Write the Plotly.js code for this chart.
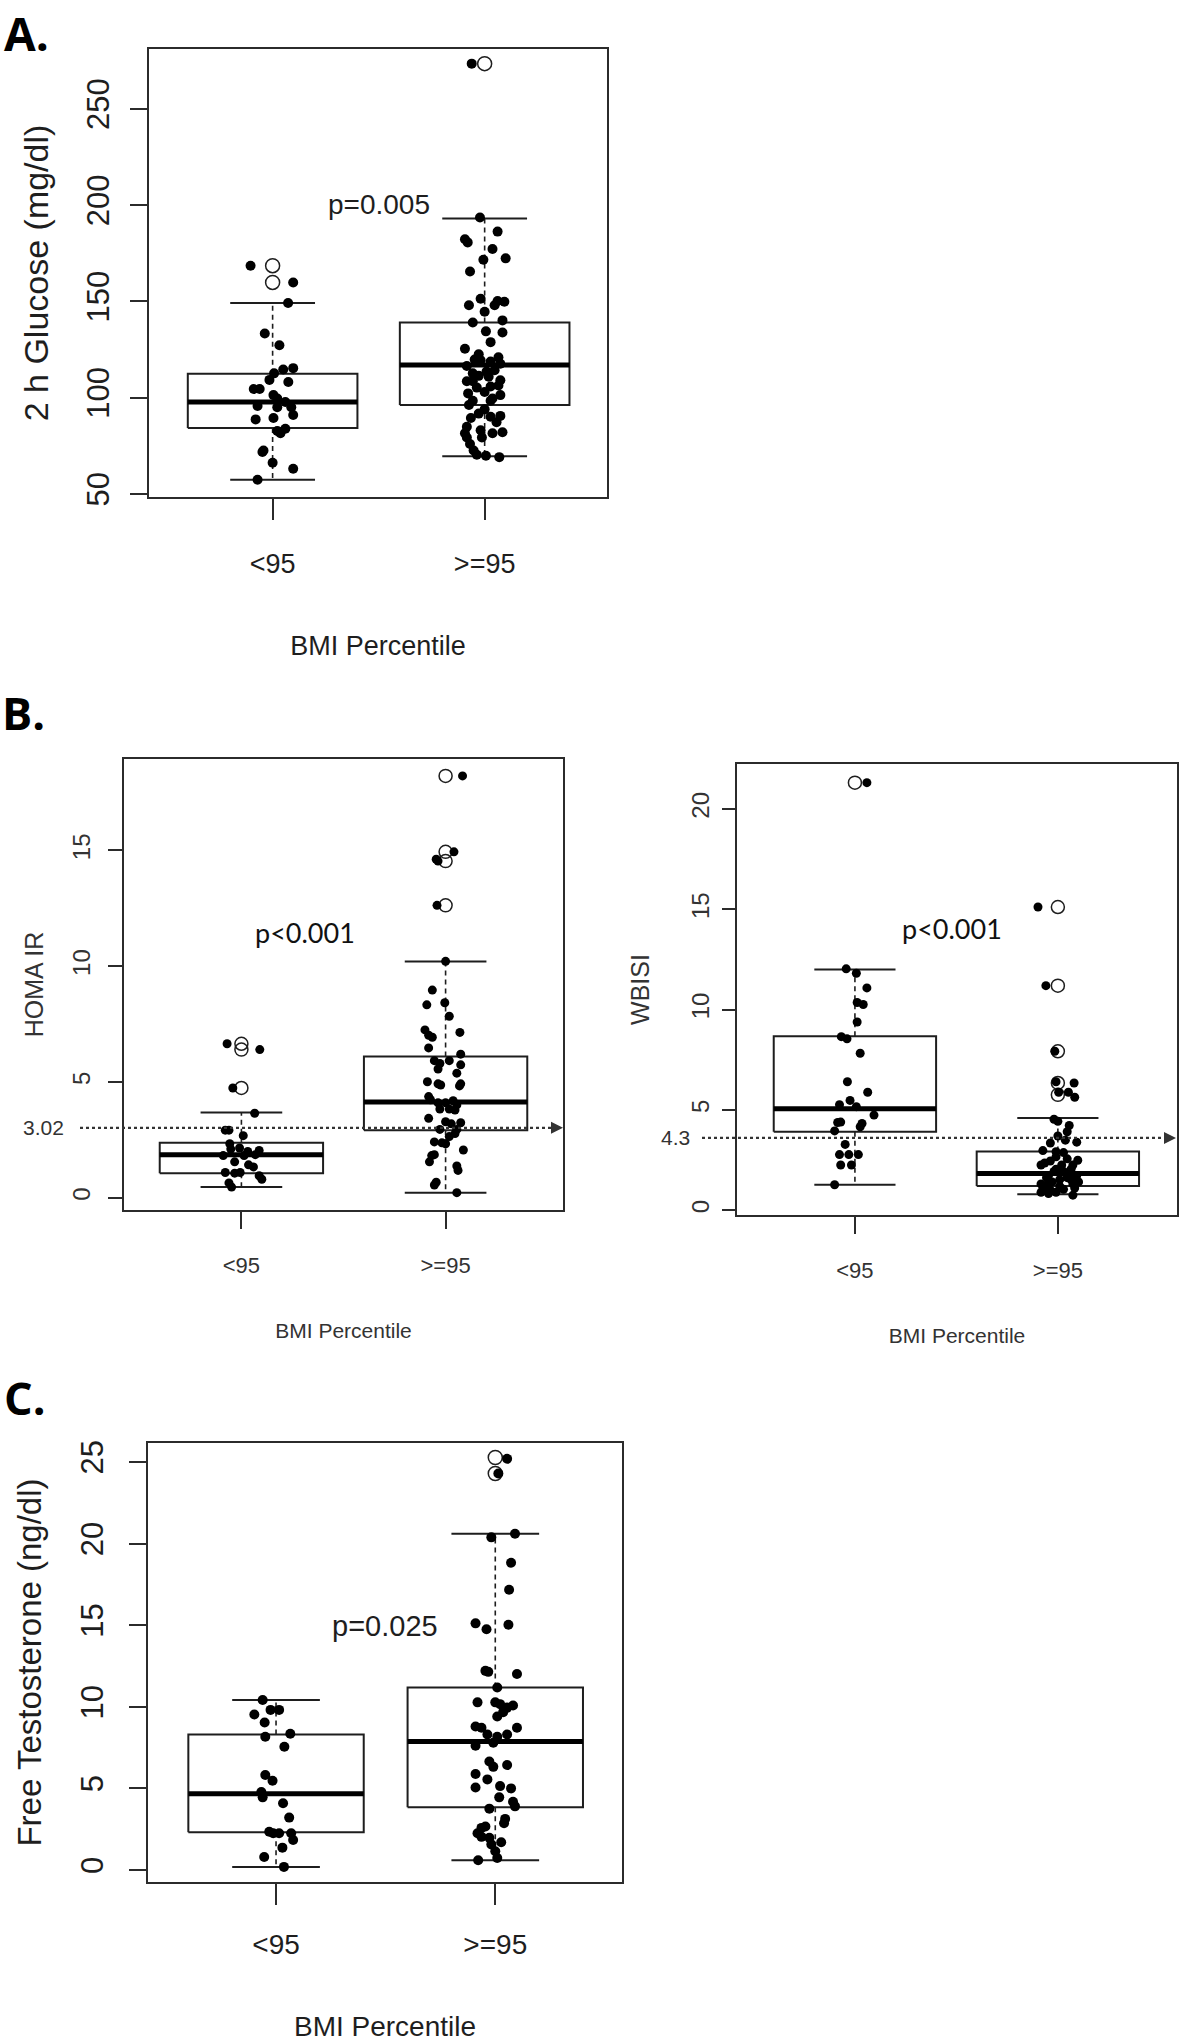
<!DOCTYPE html>
<html>
<head>
<meta charset="utf-8">
<script src="https://cdn.plot.ly/plotly-3.0.1.min.js"></script>
<style>
  html, body { margin: 0; padding: 0; background: #fff; }
  #fig { width: 1180px; height: 2042px; }
</style>
</head>
<body>
<div id="fig"></div>
<script>
// group labels (BMI percentile)
const groups = ['<95', '>=95'];

// ---- A. 2 h glucose (mg/dl) ----
const glucTicks = [50, 100, 150, 200, 250];
const glucLowVals = [168.5, 159.8, 149.1, 133.3, 127.2, 112.6, 114.6, 115.3, 104.5, 104.5, 109.2, 108.1, 95.7, 99.5,
  97.7, 95.0, 101.3, 88.7, 89.4, 91.0, 82.7, 83.8, 72.5, 71.8, 66.2, 63.1, 57.4, 95.0, 81.5];
const glucLowJit = [-0.104, 0.097, 0.073, -0.037, 0.032, 0.007, 0.050, 0.097, -0.089, -0.061, -0.015, 0.074, -0.071, 0.022,
  0.060, 0.088, 0.004, -0.080, 0.004, 0.097, 0.022, 0.060, -0.043, -0.048, 0.000, 0.097, -0.071, 0.022, 0.037];
const glucHighVals = [273.4, 193.5, 186.2, 182.2, 180.6, 177.2, 171.6, 172.3, 165.5, 151.3, 150.2, 149.8, 148.0, 148.0,
  144.6, 139.0, 140.1, 134.4, 133.8, 128.8, 125.4, 120.9, 119.8, 119.4, 118.7, 116.4, 117.6, 112.6, 113.5, 111.3,
  108.5, 109.0, 105.8, 105.2, 102.2, 101.3, 102.9, 98.4, 99.5, 96.2, 93.9, 90.5, 91.7, 90.1, 84.9, 83.1, 82.0, 81.5,
  79.3, 75.9, 72.5, 70.3, 69.8, 69.1, 108.5, 114.2, 122.5, 110.8, 89.4, 87.2, 79.3, 81.5, 98.4, 106.3];
const glucHighJit = [-0.061, -0.022, 0.061, -0.093, -0.080, 0.037, -0.006, 0.099, -0.069, -0.019, 0.061, 0.093, -0.074, 0.047,
  0.000, -0.056, 0.084, 0.006, 0.084, 0.028, -0.093, 0.065, -0.047, -0.019, 0.028, -0.084, 0.074, -0.056, 0.009, -0.028,
  -0.084, 0.074, 0.028, -0.037, -0.078, 0.074, 0.000, -0.056, 0.037, -0.074, 0.000, 0.074, -0.028, 0.028, -0.084, -0.019,
  0.084, 0.037, -0.084, -0.069, -0.052, -0.037, 0.006, 0.069, -0.056, 0.047, -0.028, 0.019, -0.065, 0.056, -0.013, -0.093,
  0.028, 0.065];
const glucQ1 = [84.2, 96.2];
const glucMed = [97.7, 116.9];
const glucQ3 = [112.4, 139.0];
const glucLo = [57.4, 69.6];
const glucHi = [149.1, 193.0];
const glucOutLow = [168.5, 159.8];
const glucOutHigh = [273.4];

// ---- B. HOMA IR ----
const homaTicks = [0, 5, 10, 15];
const homaCut = 3.02;
const homaLowVals = [6.65, 6.4, 4.74, 3.65, 2.92, 2.92, 2.68, 2.33, 2.10, 2.15, 2.00, 2.04, 1.82, 1.82, 1.86, 1.55,
  1.42, 1.33, 1.09, 1.09, 1.06, 0.95, 0.80, 0.64, 0.46];
const homaLowJit = [-0.070, 0.090, -0.042, 0.065, -0.079, -0.061, 0.009, -0.057, -0.052, -0.009, 0.031, 0.087, -0.089,
  0.013, 0.068, -0.033, 0.035, 0.059, -0.079, -0.006, -0.033, 0.087, 0.100, -0.061, -0.048];
const homaHighVals = [18.22, 14.94, 14.62, 14.54, 12.63, 10.21, 8.97, 8.33, 8.42, 7.84, 7.25, 7.02, 7.14, 6.93, 6.47,
  6.20, 5.92, 5.80, 5.92, 5.74, 5.38, 5.56, 5.01, 4.92, 4.87, 4.92, 4.83, 4.37, 4.23, 4.10, 4.10, 4.19, 4.01, 3.83,
  3.83, 3.79, 3.43, 3.28, 3.19, 3.24, 2.95, 2.95, 2.77, 2.64, 2.41, 2.37, 2.33, 2.06, 1.82, 1.86, 1.55, 1.37, 1.18,
  0.67, 0.55, 0.22];
const homaHighJit = [0.083, 0.041, -0.046, -0.037, -0.042, 0.000, -0.065, -0.092, -0.004, 0.018, -0.101, -0.083, 0.070,
  -0.065, -0.083, 0.074, -0.055, -0.028, 0.018, 0.074, 0.055, -0.037, -0.089, -0.037, -0.024, 0.074, 0.068, -0.083,
  -0.074, -0.037, 0.000, 0.037, 0.055, -0.028, 0.018, 0.046, -0.083, 0.000, 0.028, 0.074, -0.028, 0.055, 0.046, 0.018,
  -0.055, -0.018, 0.000, 0.087, -0.068, -0.055, -0.079, 0.055, 0.061, -0.046, -0.055, 0.055];
const homaQ1 = [1.06, 2.92];
const homaMed = [1.86, 4.14];
const homaQ3 = [2.37, 6.10];
const homaLo = [0.46, 0.22];
const homaHi = [3.68, 10.2];
const homaOutLow = [6.65, 6.4, 4.74];
const homaOutHigh = [18.22, 14.94, 14.54, 12.63];

// ---- B. WBISI ----
const wbisiTicks = [0, 5, 10, 15, 20];
const wbisiCut = 3.6;  // where the dotted line sits on the axis
const wbisiCutLabel = '4.3';
const wbisiLowVals = [21.31, 12.03, 11.81, 11.08, 10.35, 10.25, 9.38, 8.65, 8.54, 7.82, 6.40, 5.88, 5.26, 5.47, 5.16,
  4.74, 4.37, 4.39, 4.32, 4.16, 3.95, 3.28, 2.77, 2.77, 2.77, 2.25, 2.25, 1.27];
const wbisiLowJit = [0.059, -0.043, 0.007, 0.059, 0.011, 0.041, 0.011, -0.067, -0.039, 0.026, -0.037, 0.063, -0.076,
  -0.024, 0.007, 0.094, -0.085, -0.070, 0.035, 0.026, -0.100, -0.048, -0.076, -0.030, 0.017, -0.070, -0.017, -0.100];
const wbisiHighVals = [15.11, 11.19, 7.92, 6.40, 6.34, 5.88, 5.88, 5.63, 4.53, 4.43, 4.22, 3.91, 3.70, 3.35, 3.39, 2.97,
  2.91, 2.87, 2.45, 2.56, 2.49, 2.25, 2.35, 2.25, 2.04, 1.93, 2.04, 1.73, 1.73, 1.62, 1.52, 1.41, 1.31, 1.25, 1.31, 1.41,
  1.10, 1.00, 1.04, 1.10, 0.89, 0.89, 0.75, 1.93, 2.25, 1.62, 1.52, 1.20, 2.66, 3.49, 0.83];
const wbisiHighJit = [-0.098, -0.059, -0.015, -0.009, 0.080, 0.004, 0.052, 0.083, -0.019, 0.000, 0.056, 0.046, 0.000,
  -0.037, 0.093, -0.074, -0.009, 0.028, -0.037, 0.046, 0.098, -0.083, -0.065, 0.074, -0.009, 0.028, 0.065, -0.046, 0.093,
  0.046, 0.009, -0.028, -0.083, -0.056, 0.074, 0.102, -0.074, -0.037, 0.028, 0.083, -0.083, -0.009, 0.074, -0.019, 0.019,
  -0.056, 0.065, 0.009, -0.009, 0.037, -0.046];
const wbisiQ1 = [3.91, 1.20];
const wbisiMed = [5.05, 1.83];
const wbisiQ3 = [8.67, 2.93];
const wbisiLo = [1.27, 0.79];
const wbisiHi = [12.0, 4.59];
const wbisiOutLow = [21.31];
const wbisiOutHigh = [15.11, 11.19, 7.92, 6.34, 5.75];

// ---- C. free testosterone (ng/dl) ----
const testoTicks = [0, 5, 10, 15, 20, 25];
const testoLowVals = [10.41, 9.53, 9.81, 9.81, 9.04, 8.16, 8.35, 7.55, 5.82, 5.47, 4.78, 4.45, 4.09, 3.21, 2.34, 2.25,
  2.25, 2.25, 1.84, 1.37, 0.80, 0.19];
const testoLowJit = [-0.061, -0.099, -0.025, 0.014, -0.052, -0.049, 0.065, 0.038, -0.049, -0.016, -0.067, -0.061, 0.032,
  0.060, -0.031, -0.013, 0.014, 0.069, 0.078, 0.029, -0.054, 0.036];
const testoHighVals = [25.19, 24.29, 20.38, 20.60, 18.82, 17.17, 15.11, 14.75, 15.03, 12.20, 12.14, 12.01, 11.18, 10.27,
  10.27, 10.16, 9.95, 10.08, 9.67, 9.40, 8.79, 8.71, 8.71, 8.30, 8.16, 8.30, 7.61, 7.80, 6.65, 5.88, 6.32, 6.43, 5.55,
  5.05, 5.14, 5.00, 4.45, 4.18, 3.90, 3.76, 3.13, 2.86, 2.66, 2.58, 2.25, 2.03, 1.98, 1.57, 1.70, 1.15, 0.74, 0.60];
const testoHighJit = [0.054, 0.014, -0.018, 0.090, 0.072, 0.063, -0.090, -0.040, 0.060, -0.045, -0.032, 0.099, 0.009,
  -0.081, 0.000, 0.022, 0.054, 0.081, 0.036, 0.009, -0.090, -0.063, 0.099, -0.036, 0.009, 0.054, -0.090, -0.009, -0.027,
  -0.090, -0.009, 0.054, -0.036, -0.090, 0.022, 0.072, 0.018, 0.081, 0.090, -0.027, 0.045, 0.040, -0.045, -0.063, -0.081,
  -0.063, -0.027, -0.018, 0.027, 0.000, 0.009, -0.078];
const testoQ1 = [2.31, 3.85];
const testoMed = [4.67, 7.88];
const testoQ3 = [8.30, 11.18];
const testoLo = [0.19, 0.60];
const testoHi = [10.41, 20.6];
const testoOutLow = [];
const testoOutHigh = [25.27, 24.29];

const INK = '#1e1e1e';
const BOX_HALF = 0.4;     // R boxwex 0.8
const STAPLE_HALF = 0.2;  // staplewex 0.5

// R-style box: rectangle, thick median, dashed whiskers with solid staples
function boxTraces(q1, med, q3, lo, hi, xa, ya) {
  const rx = [], ry = [], wx = [], wy = [], sx = [], sy = [], mx = [], my = [];
  for (let i = 0; i < q1.length; i++) {
    const c = i + 1;
    rx.push(c - BOX_HALF, c + BOX_HALF, c + BOX_HALF, c - BOX_HALF, c - BOX_HALF, null);
    ry.push(q1[i], q1[i], q3[i], q3[i], q1[i], null);
    wx.push(c, c, null, c, c, null);
    wy.push(q3[i], hi[i], null, q1[i], lo[i], null);
    sx.push(c - STAPLE_HALF, c + STAPLE_HALF, null, c - STAPLE_HALF, c + STAPLE_HALF, null);
    sy.push(hi[i], hi[i], null, lo[i], lo[i], null);
    mx.push(c - BOX_HALF, c + BOX_HALF, null);
    my.push(med[i], med[i], null);
  }
  const base = {type: 'scatter', mode: 'lines', xaxis: xa, yaxis: ya, hoverinfo: 'skip', showlegend: false};
  return [
    Object.assign({}, base, {x: rx, y: ry, line: {color: INK, width: 2}}),
    Object.assign({}, base, {x: wx, y: wy, line: {color: INK, width: 1.6, dash: '5px,4px'}}),
    Object.assign({}, base, {x: sx, y: sy, line: {color: INK, width: 2}}),
    Object.assign({}, base, {x: mx, y: my, line: {color: '#000', width: 5}})
  ];
}

function pointTraces(lowV, lowJ, highV, highJ, outLow, outHigh, xa, ya, size) {
  const outX = outLow.map(() => 1).concat(outHigh.map(() => 2));
  const outY = outLow.concat(outHigh);
  return [
    {type: 'scatter', mode: 'markers', xaxis: xa, yaxis: ya, showlegend: false, name: 'outliers',
     x: outX, y: outY,
     marker: {symbol: 'circle-open', size: size + 4, color: INK, line: {width: 1.5}}},
    {type: 'scatter', mode: 'markers', xaxis: xa, yaxis: ya, showlegend: false, name: groups[0],
     x: lowJ.map(d => 1 + d), y: lowV, marker: {size: size, color: '#000'}},
    {type: 'scatter', mode: 'markers', xaxis: xa, yaxis: ya, showlegend: false, name: groups[1],
     x: highJ.map(d => 2 + d), y: highV, marker: {size: size, color: '#000'}}
  ];
}

var data = [].concat(
  boxTraces(glucQ1, glucMed, glucQ3, glucLo, glucHi, 'x', 'y'),
  pointTraces(glucLowVals, glucLowJit, glucHighVals, glucHighJit, glucOutLow, glucOutHigh, 'x', 'y', 10),
  boxTraces(homaQ1, homaMed, homaQ3, homaLo, homaHi, 'x2', 'y2'),
  pointTraces(homaLowVals, homaLowJit, homaHighVals, homaHighJit, homaOutLow, homaOutHigh, 'x2', 'y2', 9),
  boxTraces(wbisiQ1, wbisiMed, wbisiQ3, wbisiLo, wbisiHi, 'x3', 'y3'),
  pointTraces(wbisiLowVals, wbisiLowJit, wbisiHighVals, wbisiHighJit, wbisiOutLow, wbisiOutHigh, 'x3', 'y3', 9),
  boxTraces(testoQ1, testoMed, testoQ3, testoLo, testoHi, 'x4', 'y4'),
  pointTraces(testoLowVals, testoLowJit, testoHighVals, testoHighJit, testoOutLow, testoOutHigh, 'x4', 'y4', 10)
);

const W = 1180, H = 2042;
const px = v => v / W;
const py = v => 1 - v / H;

function xAxis(dom, anchor, range, fs, tlen, lstand, title, tsize, tstand, color) {
  return {
    domain: dom, anchor: anchor, range: range, showgrid: false, zeroline: false,
    showline: true, mirror: true, linecolor: '#2b2b2b', linewidth: 2,
    ticks: 'outside', ticklen: tlen, tickwidth: 2, tickcolor: '#2b2b2b',
    tickmode: 'array', tickvals: [1, 2], ticktext: groups, ticklabelstandoff: lstand,
    tickfont: {size: fs, color: color},
    title: {text: title, font: {size: tsize, color: color}, standoff: tstand}
  };
}
function yAxis(dom, anchor, range, ticks, fs, tlen, lstand, title, tsize, tstand, color) {
  return {
    domain: dom, anchor: anchor, range: range, showgrid: false, zeroline: false,
    showline: true, mirror: true, linecolor: '#2b2b2b', linewidth: 2,
    ticks: 'outside', ticklen: tlen, tickwidth: 2, tickcolor: '#2b2b2b',
    tickmode: 'array', tickvals: ticks, tickangle: -90, ticklabelstandoff: lstand,
    tickfont: {size: fs, color: color},
    title: {text: title, font: {size: tsize, color: color}, standoff: tstand}
  };
}

var layout = {
  width: W, height: H,
  margin: {l: 0, r: 0, t: 0, b: 0},
  paper_bgcolor: '#fff', plot_bgcolor: '#fff',
  font: {family: '"Liberation Sans", Arial, sans-serif', color: INK},
  showlegend: false,
  xaxis: xAxis([px(149), px(607)], 'y', [0.417, 2.577], 27, 21, 21, 'BMI Percentile', 27, 58, INK),
  yaxis: yAxis([py(497), py(49)], 'x', [48.4, 281], glucTicks, 31, 17, 9, '2 h Glucose (mg/dl)', 34, 22, INK),
  xaxis2: xAxis([px(124), px(563)], 'y2', [0.425, 2.575], 22, 17, 18, 'BMI Percentile', 21, 46, '#333'),
  yaxis2: yAxis([py(1210), py(759)], 'x2', [-0.53, 18.95], homaTicks, 24, 14, 8, 'HOMA IR', 25, 18, '#333'),
  xaxis3: xAxis([px(737), px(1177)], 'y3', [0.419, 2.587], 22, 17, 18, 'BMI Percentile', 21, 46, '#333'),
  yaxis3: yAxis([py(1215), py(764)], 'x3', [-0.24, 22.24], wbisiTicks, 24, 13, 3, 'WBISI', 25, 31, '#333'),
  xaxis4: xAxis([px(148), px(622)], 'y4', [0.416, 2.578], 28, 21, 15, 'BMI Percentile', 28, 65, INK),
  yaxis4: yAxis([py(1882), py(1443)], 'x4', [-0.735, 26.16], testoTicks, 31, 17, 14, 'Free Testosterone (ng/dl)', 33, 23, INK),
  shapes: [
    {type: 'line', xref: 'paper', yref: 'y2', x0: px(80), x1: px(556), y0: homaCut, y1: homaCut,
     line: {color: '#333', width: 2.2, dash: 'dot'}},
    {type: 'line', xref: 'paper', yref: 'y3', x0: px(702), x1: px(1168), y0: wbisiCut, y1: wbisiCut,
     line: {color: '#333', width: 2.2, dash: 'dot'}}
  ],
  annotations: [
    {text: '<b>A.</b>', xref: 'paper', yref: 'paper', x: px(2), y: 1, xanchor: 'left', yanchor: 'top',
     showarrow: false, font: {family: '"Open Sans", sans-serif', size: 46, color: '#000'}},
    {text: '<b>B.</b>', xref: 'paper', yref: 'paper', x: px(0), y: py(712), xanchor: 'left', yanchor: 'middle',
     showarrow: false, font: {family: '"Open Sans", sans-serif', size: 45, color: '#000'}},
    {text: '<b>C.</b>', xref: 'paper', yref: 'paper', x: px(2), y: py(1397), xanchor: 'left', yanchor: 'middle',
     showarrow: false, font: {family: '"Open Sans", sans-serif', size: 45, color: '#000'}},
    {text: 'p=0.005', xref: 'x', yref: 'y', x: 1.5, y: 200.5, showarrow: false,
     font: {size: 28, color: INK}},
    {text: 'p<0.001', xref: 'x2', yref: 'y2', x: 1.31, y: 11.47, showarrow: false,
     font: {family: 'Lato, sans-serif', size: 27, color: '#111'}},
    {text: 'p<0.001', xref: 'x3', yref: 'y3', x: 1.477, y: 14.05, showarrow: false,
     font: {family: 'Lato, sans-serif', size: 27, color: '#111'}},
    {text: 'p=0.025', xref: 'x4', yref: 'y4', x: 1.498, y: 14.96, showarrow: false,
     font: {size: 29, color: INK}},
    {text: String(homaCut), xref: 'paper', yref: 'y2', x: px(43), y: homaCut, xanchor: 'center', showarrow: false,
     font: {size: 21, color: '#333'}},
    {text: wbisiCutLabel, xref: 'paper', yref: 'y3', x: px(675), y: wbisiCut, xanchor: 'center', showarrow: false,
     font: {size: 21, color: '#333'}},
    // arrow heads at the end of the dotted cut-off lines
    {text: '', xref: 'paper', yref: 'y2', x: px(563), y: homaCut, showarrow: true, ax: -10, ay: 0,
     arrowhead: 2, arrowsize: 1.2, arrowwidth: 2, arrowcolor: '#333'},
    {text: '', xref: 'paper', yref: 'y3', x: px(1176), y: wbisiCut, showarrow: true, ax: -10, ay: 0,
     arrowhead: 2, arrowsize: 1.2, arrowwidth: 2, arrowcolor: '#333'}
  ]
};

Plotly.newPlot('fig', data, layout, {staticPlot: true});
</script>
</body>
</html>
